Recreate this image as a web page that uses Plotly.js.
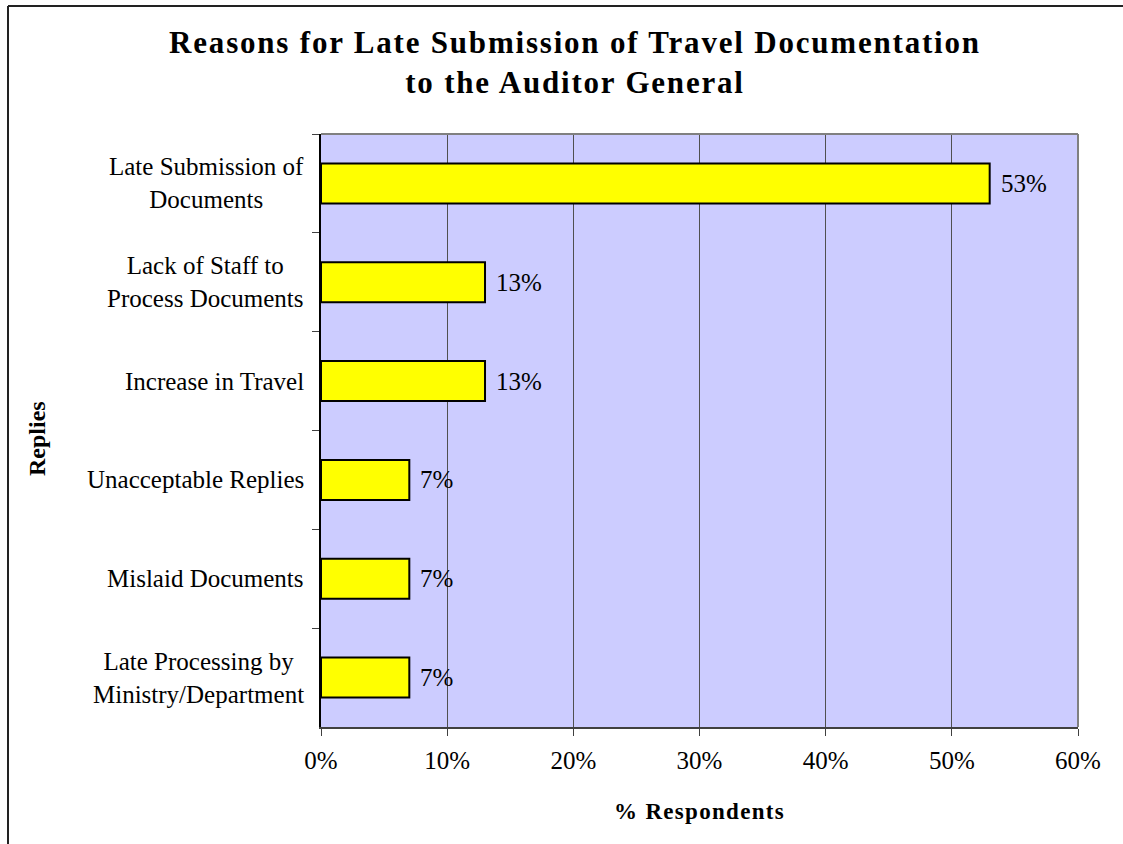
<!DOCTYPE html>
<html>
<head>
<meta charset="utf-8">
<script src="https://cdn.plot.ly/plotly-3.0.1.min.js"></script>
<style>
  html, body { margin: 0; padding: 0; background: #fff; }
  #chart { width: 1123px; height: 844px; }
  /* wide-set headings */
  .gtitle { letter-spacing: 1.8px; }
  .xtitle { letter-spacing: 1.3px; }
</style>
</head>
<body>
<div id="chart"></div>
<script>
// Survey replies: reasons for late submission of travel documentation
const categories = [
  "Late Submission of<br>Documents",
  "Lack of Staff to<br>Process Documents",
  "Increase in Travel",
  "Unacceptable Replies",
  "Mislaid Documents",
  "Late Processing by<br>Ministry/Department"
];
const shares = [53, 13, 13, 7, 7, 7];        // % of respondents
const xTickVals = [0, 10, 20, 30, 40, 50, 60];
const xTickText = ["0%", "10%", "20%", "30%", "40%", "50%", "60%"];

const serif = "Liberation Serif, Times New Roman, serif";

// Plot area geometry in pixels (used for the outer frame in paper units)
const W = 1123, H = 844;
const M = { l: 321, r: 45, t: 134, b: 117 };
const pw = W - M.l - M.r, ph = H - M.t - M.b;
const px = v => (v - M.l) / pw;
const py = v => (H - M.b - v) / ph;

const bars = {
  type: "bar",
  orientation: "h",
  x: shares,
  y: categories,
  marker: { color: "#FFFF00", line: { color: "#000000", width: 2 } },
  cliponaxis: false,
  hoverinfo: "skip"
};

// category names, centred line by line, to the left of the axis
const labelAnnotations = categories.map(c => ({
  xref: "paper", yref: "y", x: 0, y: c,
  xanchor: "right", yanchor: "middle", xshift: -15,
  align: "center", showarrow: false,
  text: c,
  font: { family: serif, size: 25, color: "#000" }
}));

// value labels just past the end of each bar
const valueAnnotations = shares.map((v, i) => ({
  xref: "x", yref: "y", x: v, y: categories[i],
  xanchor: "left", yanchor: "middle", xshift: 9,
  showarrow: false,
  text: v + "%",
  font: { family: serif, size: 25, color: "#000" }
}));

const layout = {
  width: W, height: H,
  margin: M,
  paper_bgcolor: "#ffffff",
  plot_bgcolor: "#CCCCFF",
  showlegend: false,
  bargap: 0.595,
  font: { family: serif, size: 25, color: "#000" },
  title: {
    text: "<b>Reasons for Late Submission of Travel Documentation<br>to the Auditor General</b>",
    font: { family: serif, size: 31, color: "#000" },
    xref: "container", x: 0.512, xanchor: "center",
    yref: "container", y: 0.937, yanchor: "top"
  },
  xaxis: {
    range: [0, 60],
    tickvals: xTickVals,
    ticktext: xTickText,
    ticks: "outside", ticklen: 7, tickwidth: 1, tickcolor: "#404040",
    ticklabelstandoff: 3,
    showgrid: true, gridcolor: "#505050", gridwidth: 1,
    showline: true, linecolor: "#404040", linewidth: 2,
    zeroline: false,
    tickfont: { family: serif, size: 25, color: "#000" },
    title: {
      text: "<b>% Respondents</b>",
      font: { family: serif, size: 23, color: "#000" },
      standoff: 30
    },
    fixedrange: true
  },
  yaxis: {
    type: "category",
    autorange: "reversed",
    showticklabels: false,
    ticks: "outside", tickson: "boundaries", ticklen: 7, tickwidth: 1, tickcolor: "#404040",
    showgrid: false,
    showline: true, linecolor: "#000000", linewidth: 2,
    zeroline: false,
    fixedrange: true
  },
  annotations: labelAnnotations.concat(valueAnnotations, [{
    xref: "paper", yref: "paper",
    x: px(37), y: py(439),
    xanchor: "center", yanchor: "middle",
    textangle: -90, showarrow: false,
    text: "<b>Replies</b>",
    font: { family: serif, size: 24, color: "#000" }
  }]),
  shapes: [
    // gray border on the top and right of the plot area
    { type: "line", xref: "paper", yref: "paper", x0: 0, x1: 1, y0: 1, y1: 1,
      line: { color: "#808080", width: 2 } },
    { type: "line", xref: "paper", yref: "paper", x0: 1, x1: 1, y0: 0, y1: 1,
      line: { color: "#808080", width: 2 } },
    // outer chart frame
    { type: "line", xref: "paper", yref: "paper", x0: px(8), x1: px(1130), y0: py(6), y1: py(6),
      line: { color: "#222", width: 2 } },
    { type: "line", xref: "paper", yref: "paper", x0: px(8), x1: px(8), y0: py(6), y1: py(850),
      line: { color: "#222", width: 2 } }
  ]
};

Plotly.newPlot("chart", [bars], layout, { displayModeBar: false, staticPlot: true });
</script>
</body>
</html>
